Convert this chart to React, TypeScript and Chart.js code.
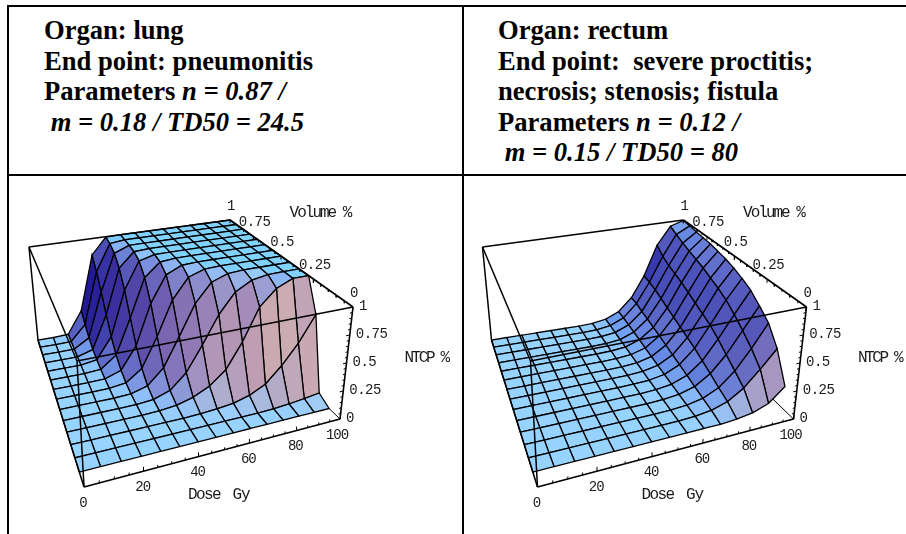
import React, { useEffect, useRef } from "react";
import { Chart, registerables } from "chart.js";

Chart.register(...registerables);

const doses = [0, 7.14, 14.29, 21.43, 28.57, 35.71, 42.86, 50, 57.14, 64.29, 71.43, 78.57, 85.71, 92.86, 100];
const volumes = [0.071, 0.143, 0.214, 0.286, 0.357, 0.429, 0.5, 0.571, 0.643, 0.714, 0.786, 0.857, 0.929, 1];

const lungNtcp = [
  [0, 0, 0, 0, 0, 0, 0, 0, 0, 0, 0, 0, 0, 0, 0],
  [0, 0, 0, 0, 0, 0, 0, 0, 0, 0, 0, 0.005, 0.015, 0.03, 0.05],
  [0, 0, 0, 0, 0, 0, 0, 0.005, 0.015, 0.03, 0.07, 0.14, 0.28, 0.46, 0.7],
  [0, 0, 0, 0, 0, 0.005, 0.02, 0.06, 0.13, 0.25, 0.48, 0.78, 0.93, 1, 1],
  [0, 0, 0, 0, 0.002, 0.014, 0.065, 0.2, 0.43, 0.69, 0.88, 0.967, 0.994, 0.999, 1],
  [0, 0, 0, 0, 0.007, 0.05, 0.19, 0.46, 0.75, 0.93, 0.987, 0.999, 1, 1, 1],
  [0, 0, 0, 0.002, 0.022, 0.13, 0.41, 0.74, 0.937, 0.992, 1, 1, 1, 1, 1],
  [0, 0, 0, 0.005, 0.057, 0.27, 0.66, 0.92, 0.991, 1, 1, 1, 1, 1, 1],
  [0, 0, 0, 0.012, 0.125, 0.47, 0.85, 0.984, 0.999, 1, 1, 1, 1, 1, 1],
  [0, 0, 0.001, 0.026, 0.23, 0.68, 0.955, 0.998, 1, 1, 1, 1, 1, 1, 1],
  [0, 0, 0.002, 0.05, 0.38, 0.84, 0.99, 1, 1, 1, 1, 1, 1, 1, 1],
  [0, 0, 0.003, 0.095, 0.55, 0.937, 0.998, 1, 1, 1, 1, 1, 1, 1, 1],
  [0, 0, 0.006, 0.16, 0.7, 0.98, 1, 1, 1, 1, 1, 1, 1, 1, 1],
  [0, 0, 0.01, 0.24, 0.82, 0.995, 1, 1, 1, 1, 1, 1, 1, 1, 1],
];

const rectumNtcp = [
  [0, 0, 0, 0, 0, 0, 0, 0, 0, 0, 0, 0.01, 0.03, 0.08, 0.2],
  [0, 0, 0, 0, 0, 0, 0, 0, 0.002, 0.008, 0.026, 0.07, 0.16, 0.3, 0.46],
  [0, 0, 0, 0, 0, 0, 0, 0, 0.003, 0.013, 0.042, 0.107, 0.23, 0.41, 0.62],
  [0, 0, 0, 0, 0, 0, 0, 0, 0.005, 0.02, 0.06, 0.15, 0.3, 0.5, 0.71],
  [0, 0, 0, 0, 0, 0, 0, 0.001, 0.007, 0.027, 0.08, 0.19, 0.37, 0.58, 0.79],
  [0, 0, 0, 0, 0, 0, 0, 0.002, 0.009, 0.034, 0.1, 0.23, 0.43, 0.65, 0.84],
  [0, 0, 0, 0, 0, 0, 0, 0.002, 0.011, 0.04, 0.115, 0.26, 0.47, 0.7, 0.88],
  [0, 0, 0, 0, 0, 0, 0, 0.003, 0.013, 0.048, 0.135, 0.29, 0.51, 0.74, 0.91],
  [0, 0, 0, 0, 0, 0, 0, 0.003, 0.016, 0.057, 0.155, 0.32, 0.55, 0.78, 0.93],
  [0, 0, 0, 0, 0, 0, 0, 0.004, 0.018, 0.067, 0.17, 0.35, 0.59, 0.81, 0.95],
  [0, 0, 0, 0, 0, 0, 0, 0.005, 0.02, 0.074, 0.187, 0.38, 0.62, 0.84, 0.96],
  [0, 0, 0, 0, 0, 0, 0, 0.005, 0.023, 0.08, 0.2, 0.41, 0.65, 0.87, 0.97],
  [0, 0, 0, 0, 0, 0, 0, 0.006, 0.026, 0.087, 0.22, 0.43, 0.69, 0.91, 0.985],
  [0, 0, 0, 0, 0, 0, 0, 0.006, 0.029, 0.09, 0.22, 0.44, 0.76, 0.95, 0.995],
];

const doseTicks = [0, 20, 40, 60, 80, 100];
const doseMinorTicks = [5, 10, 15, 25, 30, 35, 45, 50, 55, 65, 70, 75, 85, 90, 95];
const volumeTicks = [0, 0.25, 0.5, 0.75, 1];
const volumeMinorTicks = [0.05, 0.1, 0.15, 0.2, 0.3, 0.35, 0.4, 0.45, 0.55, 0.6, 0.65, 0.7, 0.8, 0.85, 0.9, 0.95];
const ntcpTicks = [0, 0.25, 0.5, 0.75, 1];
const ntcpMinorTicks = [0.05, 0.1, 0.15, 0.2, 0.3, 0.35, 0.4, 0.45, 0.55, 0.6, 0.65, 0.7, 0.8, 0.85, 0.9, 0.95];

type P = { x: number; y: number };
type Quad = [P, P, P, P];

// Projected box corners of the left panel; the right panel is the same view moved sideways.
const topFace: Quad = [{ x: 77, y: 361 }, { x: 353, y: 307 }, { x: 230, y: 220 }, { x: 29, y: 247 }];
const bottomFace: Quad = [{ x: 84, y: 487 }, { x: 340, y: 419 }, { x: 227, y: 310 }, { x: 38, y: 340 }];

function homography(q: Quad) {
  const [p0, p1, p2, p3] = q;
  const dx1 = p1.x - p2.x, dx2 = p3.x - p2.x, sx = p0.x - p1.x + p2.x - p3.x;
  const dy1 = p1.y - p2.y, dy2 = p3.y - p2.y, sy = p0.y - p1.y + p2.y - p3.y;
  const den = dx1 * dy2 - dx2 * dy1;
  const g = (sx * dy2 - dx2 * sy) / den;
  const h = (dx1 * sy - sx * dy1) / den;
  return (u: number, v: number): P => {
    const w = g * u + h * v + 1;
    return {
      x: ((p1.x - p0.x + g * p1.x) * u + (p3.x - p0.x + h * p3.x) * v + p0.x) / w,
      y: ((p1.y - p0.y + g * p1.y) * u + (p3.y - p0.y + h * p3.y) * v + p0.y) / w,
    };
  };
}
const topMap = homography(topFace);
const bottomMap = homography(bottomFace);

function project(dose: number, vol: number, ntcp: number, dx: number): P {
  const t = topMap(dose / 100, vol);
  const b = bottomMap(dose / 100, vol);
  return { x: b.x + (t.x - b.x) * ntcp + dx, y: b.y + (t.y - b.y) * ntcp };
}

const RIGHT = [0.944, -0.331, 0];
const UP = [0.199, 0.53, 0.824];
const Z_RATIO = 0.55;

function shade(g: number[][], i: number, j: number) {
  const d1 = [doses[i + 1] / 100 - doses[i] / 100, volumes[j + 1] - volumes[j], (g[j + 1][i + 1] - g[j][i]) * Z_RATIO];
  const d2 = [doses[i] / 100 - doses[i + 1] / 100, volumes[j + 1] - volumes[j], (g[j + 1][i] - g[j][i + 1]) * Z_RATIO];
  let n = [d1[1] * d2[2] - d1[2] * d2[1], d1[2] * d2[0] - d1[0] * d2[2], d1[0] * d2[1] - d1[1] * d2[0]];
  const len = Math.hypot(n[0], n[1], n[2]) * (n[2] < 0 ? -1 : 1);
  n = n.map((c) => c / len);
  const nr = n[0] * RIGHT[0] + n[1] * RIGHT[1] + n[2] * RIGHT[2];
  const nu = n[0] * UP[0] + n[1] * UP[1] + n[2] * UP[2];
  const q = Math.max(0, (nr + 0.91) * (0.08 - nr));
  const w = Math.max(0, nu) * Math.max(0, -nr - 0.5);
  const height = (g[j][i] + g[j][i + 1] + g[j + 1][i] + g[j + 1][i + 1]) / 4;
  const c = (v: number) => Math.max(0, Math.min(255, Math.round(v)));
  const r = c(170 + 172 * nr - 34 * nu + 118 * q + 655 * w - (nu > 0.75 ? 22 * height : 0));
  const gr = c(167 + 168 * nr + 44 * nu + 106 * q + 550 * w);
  const b = c(198 + 55 * nr + 69 * nu + 78 * q + 223 * w);
  return `rgb(${r},${gr},${b})`;
}

function buildDatasets(g: number[][], dx: number) {
  const sets: any[] = [];
  const line = (pts: P[], w = 1.3) =>
    sets.push({ data: pts, showLine: true, fill: false, borderColor: "#000", borderWidth: w, pointRadius: 0, tension: 0 });
  const edge = (a: number[], b: number[], w = 1.5) =>
    line([project(a[0], a[1], a[2], dx), project(b[0], b[1], b[2], dx)], w);

  // Chart.js paints the last dataset first, so the frontmost marks come first.
  edge([0, 0, 1], [100, 0, 1]);
  edge([0, 0, 0], [0, 0, 1]);
  edge([0, 1, 1], [0, 0, 1]);
  edge([0, 0, 0], [100, 0, 0], 1.6);
  edge([0, 0, 0], [0, 1, 0]);
  edge([100, 0, 0], [100, 0, 1], 1.6);
  edge([100, 0, 1], [100, 1, 1], 1.6);
  edge([0, 1, 1], [100, 1, 1]);

  for (const d of [...doseTicks, ...doseMinorTicks]) {
    const major = doseTicks.includes(d);
    const a = project(d, 0, 0, dx);
    line([a, project(d, 0, major ? 0.035 : 0.02, dx)], 1);
  }
  for (const v of [...volumeTicks, ...volumeMinorTicks]) {
    const major = volumeTicks.includes(v);
    const a = project(100, v, 1, dx);
    line([a, project(100, v, major ? 0.965 : 0.98, dx)], 1);
  }
  for (const z of [...ntcpTicks, ...ntcpMinorTicks]) {
    const major = ntcpTicks.includes(z);
    const a = project(100, 0, z, dx);
    line([a, project(major ? 98.4 : 99, 0, z, dx)], 1);
  }

  for (let j = 0; j < volumes.length - 1; j++) {
    for (let i = 0; i < doses.length - 1; i++) {
      const corners = [
        project(doses[i], volumes[j], g[j][i], dx),
        project(doses[i + 1], volumes[j], g[j][i + 1], dx),
        project(doses[i + 1], volumes[j + 1], g[j + 1][i + 1], dx),
        project(doses[i], volumes[j + 1], g[j + 1][i], dx),
      ];
      sets.push({
        data: [...corners, corners[0]],
        showLine: true,
        fill: "shape",
        backgroundColor: shade(g, i, j),
        borderColor: "#000",
        borderWidth: 1.3,
        pointRadius: 0,
        tension: 0,
      });
    }
  }

  edge([100, 0, 0], [100, 1, 0], 1);
  edge([0, 1, 0], [0, 1, 1]);
  return sets;
}

const tickFont = '14px "Liberation Mono", monospace';
const labelFont = '16px "Liberation Mono", monospace';

function textPlugin(dx: number) {
  return {
    id: "axisText",
    afterDatasetsDraw(chart: any) {
      const { ctx, scales } = chart;
      const put = (text: string, p: P, ox: number, oy: number, align: CanvasTextAlign, font: string, spacing: string) => {
        ctx.font = font;
        (ctx as any).letterSpacing = spacing;
        ctx.textAlign = align;
        ctx.textBaseline = "middle";
        ctx.fillStyle = "#1a1a1a";
        ctx.fillText(text, scales.x.getPixelForValue(p.x + ox), scales.y.getPixelForValue(p.y + oy));
      };
      ctx.save();
      for (const d of doseTicks) put(String(d), project(d, 0, 0, dx), d === 100 ? -3 : -1, 16, "center", tickFont, "-1px");
      for (const v of volumeTicks) put(String(v), project(100, v, 1, dx), 1, -14, "center", tickFont, "-0.5px");
      for (const z of ntcpTicks) put(String(z), project(100, 0, z, dx), 6, -1, "left", tickFont, "-0.5px");
      const at = (x: number, y: number): P => ({ x: x + dx, y });
      put("Volume %", at(320, 213), 0, 0, "center", labelFont, "-2px");
      put("NTCP %", at(426, 358), 0, 0, "center", labelFont, "-2.4px");
      put("Dose", at(204, 495), 0, 0, "center", labelFont, "-1.6px");
      put("Gy", at(241, 495), 0, 0, "center", labelFont, "-1px");
      ctx.restore();
    },
  };
}

function Panel({ grid, dx, left, width }: { grid: number[][]; dx: number; left: number; width: number }) {
  const ref = useRef<HTMLCanvasElement>(null);
  useEffect(() => {
    const chart = new Chart(ref.current!, {
      type: "scatter",
      data: { datasets: buildDatasets(grid, dx) },
      options: {
        animation: false,
        responsive: false,
        events: [],
        clip: false as any,
        layout: { padding: 0 },
        plugins: { legend: { display: false }, tooltip: { enabled: false } },
        scales: {
          x: { type: "linear", display: false, min: left, max: left + width },
          y: { type: "linear", display: false, min: 177, max: 534, reverse: true },
        },
      },
      plugins: [textPlugin(dx)],
    } as any);
    return () => chart.destroy();
  }, []);
  return <canvas ref={ref} width={width} height={357} style={{ position: "fixed", left, top: 177, width, height: 357 }} />;
}

const lineStyle = (left: number, top: number, width: number, height: number): React.CSSProperties => ({
  position: "fixed", left, top, width, height, background: "#000",
});
const head: React.CSSProperties = {
  position: "fixed",
  font: 'bold 26.6px/30.5px "Liberation Serif", serif',
  color: "#000",
  whiteSpace: "pre",
};

export default function App() {
  return (
    <div style={{ position: "fixed", inset: 0, background: "#fff", overflow: "hidden" }}>
      <div style={lineStyle(7, 5, 899, 2)} />
      <div style={lineStyle(7, 174, 899, 2)} />
      <div style={lineStyle(7, 5, 2, 529)} />
      <div style={lineStyle(462, 5, 2, 529)} />
      <div style={{ ...head, left: 44, top: 15 }}>
        {"Organ: lung\nEnd point: pneumonitis\nParameters "}
        <i>{"n = 0.87 /\n m = 0.18 / TD50 = 24.5"}</i>
      </div>
      <div style={{ ...head, left: 498, top: 15 }}>
        {"Organ: rectum\nEnd point:  severe proctitis;\nnecrosis; stenosis; fistula\nParameters "}
        <i>{"n = 0.12 /\n m = 0.15 / TD50 = 80"}</i>
      </div>
      <Panel grid={lungNtcp} dx={0} left={9} width={453} />
      <Panel grid={rectumNtcp} dx={453.5} left={464} width={442} />
    </div>
  );
}
